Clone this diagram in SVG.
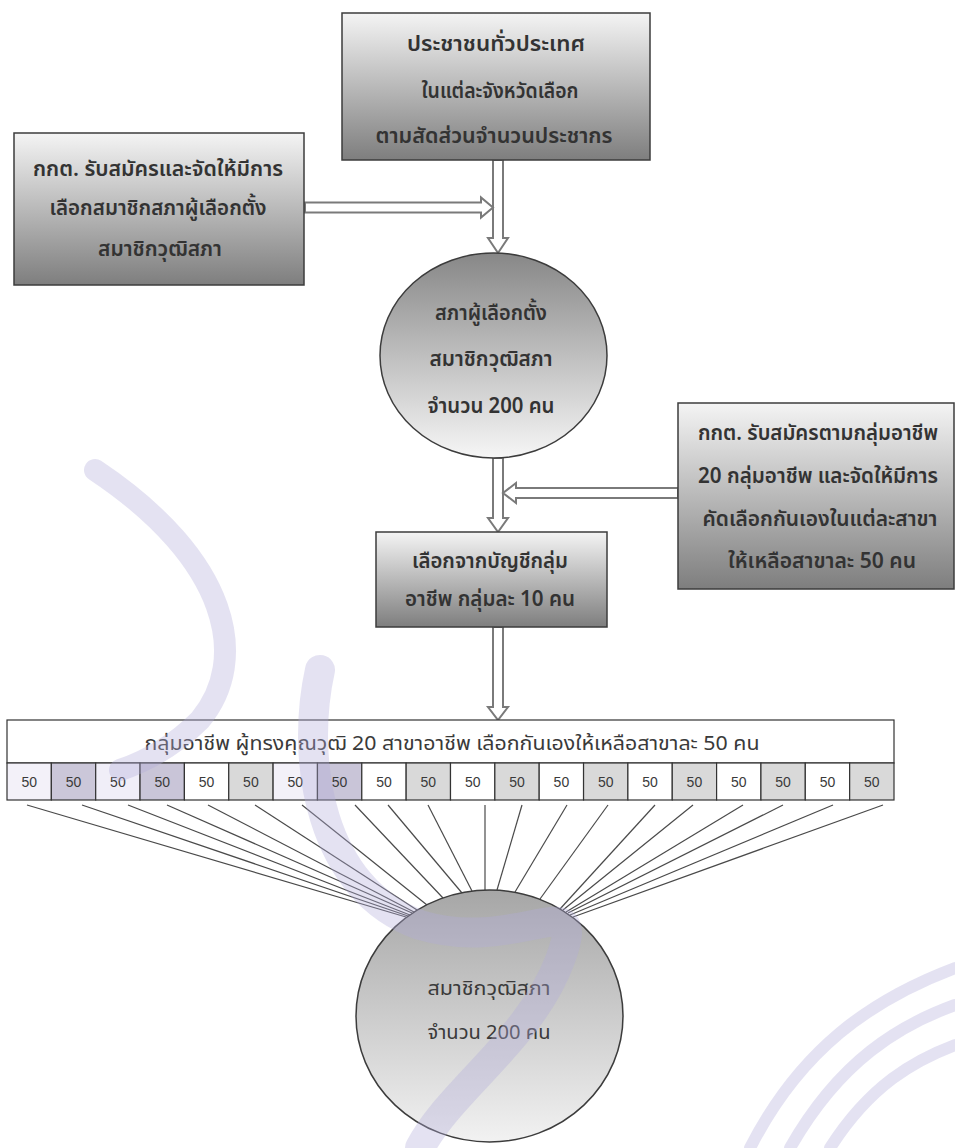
<svg xmlns="http://www.w3.org/2000/svg" width="955" height="1148" viewBox="0 0 955 1148">
<style>
.bx{stroke:#3c3c3c;stroke-width:1.5}
.t{font-family:"Noto Sans Thai","Noto Sans",sans-serif;font-size:22px;fill:#333;text-anchor:middle;font-weight:600}
.tl{font-family:"Noto Sans Thai","Noto Sans",sans-serif;font-size:19px;fill:#3a3a3a;text-anchor:middle}
.n{font-family:"Liberation Sans",sans-serif;font-size:14px;fill:#3a3a3a;text-anchor:middle}
.cell{stroke:#333;stroke-width:1.2}
.arr{fill:#fff;stroke:#7a7a7a;stroke-width:2}
.ln{stroke:#4a4a4a;stroke-width:1.2;fill:none}
.wm{fill:none;stroke:#b3abd9;stroke-linecap:round;opacity:0.35}
</style>
<defs>
<linearGradient id="gBox" x1="0" y1="0" x2="0" y2="1">
<stop offset="0" stop-color="#f4f4f4"/><stop offset="1" stop-color="#7e7e7e"/>
</linearGradient>
<linearGradient id="gCirc" x1="0" y1="0" x2="0" y2="1">
<stop offset="0" stop-color="#878787"/><stop offset="1" stop-color="#f6f6f6"/>
</linearGradient>
<linearGradient id="gCirc2" x1="0" y1="0" x2="0" y2="1">
<stop offset="0" stop-color="#a6a6a6"/><stop offset="1" stop-color="#f2f2f2"/>
</linearGradient>
</defs>
<rect width="955" height="1148" fill="#fff"/>
<g id="connectors">
<polygon class="arr" points="493,160 503,160 503,238 508,238 498,253 488,238 493,238"/>
<polygon class="arr" points="305,202.5 305,212.5 481,212.5 481,217.5 493,207.5 481,197.5 481,202.5"/>
<polygon class="arr" points="493,458 503,458 503,518 508,518 498,532 488,518 493,518"/>
<polygon class="arr" points="678,488 678,498 516,498 516,503 503,493 516,483 516,488"/>
<polygon class="arr" points="493,627 503,627 503,707 508,707 498,720 488,707 493,707"/>
<line class="ln" x1="27" y1="805" x2="406" y2="917"/>
<line class="ln" x1="82" y1="805" x2="408" y2="916"/>
<line class="ln" x1="128" y1="805" x2="410" y2="915"/>
<line class="ln" x1="167" y1="805" x2="412" y2="913"/>
<line class="ln" x1="208" y1="805" x2="414" y2="912"/>
<line class="ln" x1="255" y1="805" x2="417" y2="910"/>
<line class="ln" x1="302" y1="805" x2="427" y2="905"/>
<line class="ln" x1="355" y1="805" x2="443" y2="898"/>
<line class="ln" x1="388" y1="805" x2="462" y2="893"/>
<line class="ln" x1="428" y1="805" x2="472" y2="891"/>
<line class="ln" x1="485" y1="805" x2="485" y2="890"/>
<line class="ln" x1="522" y1="805" x2="497" y2="890"/>
<line class="ln" x1="567" y1="805" x2="515" y2="892"/>
<line class="ln" x1="608" y1="805" x2="540" y2="899"/>
<line class="ln" x1="655" y1="805" x2="560" y2="909"/>
<line class="ln" x1="693" y1="805" x2="563" y2="910"/>
<line class="ln" x1="743" y1="805" x2="566" y2="912"/>
<line class="ln" x1="783" y1="805" x2="568" y2="913"/>
<line class="ln" x1="833" y1="805" x2="570" y2="915"/>
<line class="ln" x1="883" y1="805" x2="573" y2="917"/>
</g>
<g id="n-top">
<rect class="bx" x="342" y="13" width="308" height="147" fill="url(#gBox)"/>
<text class="t" x="496" y="51" textLength="178" lengthAdjust="spacingAndGlyphs">ประชาชนทั่วประเทศ</text>
<text class="t" x="500" y="98" textLength="157" lengthAdjust="spacingAndGlyphs">ในแต่ละจังหวัดเลือก</text>
<text class="t" x="494" y="143" textLength="237" lengthAdjust="spacingAndGlyphs">ตามสัดส่วนจำนวนประชากร</text>
</g>
<g id="n-left">
<rect class="bx" x="14" y="133" width="290" height="152" fill="url(#gBox)"/>
<text class="t" x="158" y="176" textLength="250" lengthAdjust="spacingAndGlyphs">กกต. รับสมัครและจัดให้มีการ</text>
<text class="t" x="158" y="215" textLength="217" lengthAdjust="spacingAndGlyphs">เลือกสมาชิกสภาผู้เลือกตั้ง</text>
<text class="t" x="160" y="256" textLength="124" lengthAdjust="spacingAndGlyphs">สมาชิกวุฒิสภา</text>
</g>
<g id="n-circle1">
<ellipse class="bx" cx="493.5" cy="355.5" rx="113.5" ry="102.5" fill="url(#gCirc)"/>
<text class="t" x="491" y="320" textLength="112" lengthAdjust="spacingAndGlyphs">สภาผู้เลือกตั้ง</text>
<text class="t" x="491" y="366" textLength="123" lengthAdjust="spacingAndGlyphs">สมาชิกวุฒิสภา</text>
<text class="t" x="491" y="413" textLength="127" lengthAdjust="spacingAndGlyphs">จำนวน 200 คน</text>
</g>
<g id="n-right">
<rect class="bx" x="678" y="403" width="276" height="186" fill="url(#gBox)"/>
<text class="t" x="818" y="440" textLength="240" lengthAdjust="spacingAndGlyphs">กกต. รับสมัครตามกลุ่มอาชีพ</text>
<text class="t" x="818" y="483" textLength="240" lengthAdjust="spacingAndGlyphs">20 กลุ่มอาชีพ และจัดให้มีการ</text>
<text class="t" x="820" y="526" textLength="235" lengthAdjust="spacingAndGlyphs">คัดเลือกกันเองในแต่ละสาขา</text>
<text class="t" x="822" y="568" textLength="188" lengthAdjust="spacingAndGlyphs">ให้เหลือสาขาละ 50 คน</text>
</g>
<g id="n-middle">
<rect class="bx" x="376" y="532" width="231" height="95" fill="url(#gBox)"/>
<text class="t" x="490" y="568" textLength="156" lengthAdjust="spacingAndGlyphs">เลือกจากบัญชีกลุ่ม</text>
<text class="t" x="490" y="606" textLength="170" lengthAdjust="spacingAndGlyphs">อาชีพ กลุ่มละ 10 คน</text>
</g>
<g id="n-groups">
<rect class="cell" x="7" y="720" width="887" height="43" fill="#fff"/>
<text class="tl" x="452" y="750" textLength="615" lengthAdjust="spacingAndGlyphs">กลุ่มอาชีพ ผู้ทรงคุณวุฒิ 20 สาขาอาชีพ เลือกกันเองให้เหลือสาขาละ 50 คน</text>
<rect class="cell" x="7" y="763" width="44.35" height="37" fill="#f3f1f9"/>
<rect class="cell" x="51.35" y="763" width="44.35" height="37" fill="#cbc7d9"/>
<rect class="cell" x="95.7" y="763" width="44.35" height="37" fill="#f0eef8"/>
<rect class="cell" x="140.05" y="763" width="44.35" height="37" fill="#c9c5d8"/>
<rect class="cell" x="184.4" y="763" width="44.35" height="37" fill="#fff"/>
<rect class="cell" x="228.75" y="763" width="44.35" height="37" fill="#d9d9d9"/>
<rect class="cell" x="273.1" y="763" width="44.35" height="37" fill="#f3f1f9"/>
<rect class="cell" x="317.45" y="763" width="44.35" height="37" fill="#c9c5d8"/>
<rect class="cell" x="361.8" y="763" width="44.35" height="37" fill="#fff"/>
<rect class="cell" x="406.15" y="763" width="44.35" height="37" fill="#d9d9d9"/>
<rect class="cell" x="450.5" y="763" width="44.35" height="37" fill="#fff"/>
<rect class="cell" x="494.85" y="763" width="44.35" height="37" fill="#d9d9d9"/>
<rect class="cell" x="539.2" y="763" width="44.35" height="37" fill="#fff"/>
<rect class="cell" x="583.55" y="763" width="44.35" height="37" fill="#d9d9d9"/>
<rect class="cell" x="627.9" y="763" width="44.35" height="37" fill="#fff"/>
<rect class="cell" x="672.25" y="763" width="44.35" height="37" fill="#d9d9d9"/>
<rect class="cell" x="716.6" y="763" width="44.35" height="37" fill="#fff"/>
<rect class="cell" x="760.95" y="763" width="44.35" height="37" fill="#d9d9d9"/>
<rect class="cell" x="805.3" y="763" width="44.35" height="37" fill="#fff"/>
<rect class="cell" x="849.65" y="763" width="44.35" height="37" fill="#d9d9d9"/>
<text class="n" x="29.2" y="787">50</text>
<text class="n" x="73.5" y="787">50</text>
<text class="n" x="117.9" y="787">50</text>
<text class="n" x="162.2" y="787">50</text>
<text class="n" x="206.6" y="787">50</text>
<text class="n" x="250.9" y="787">50</text>
<text class="n" x="295.3" y="787">50</text>
<text class="n" x="339.6" y="787">50</text>
<text class="n" x="384" y="787">50</text>
<text class="n" x="428.3" y="787">50</text>
<text class="n" x="472.7" y="787">50</text>
<text class="n" x="517" y="787">50</text>
<text class="n" x="561.4" y="787">50</text>
<text class="n" x="605.7" y="787">50</text>
<text class="n" x="650.1" y="787">50</text>
<text class="n" x="694.4" y="787">50</text>
<text class="n" x="738.8" y="787">50</text>
<text class="n" x="783.1" y="787">50</text>
<text class="n" x="827.5" y="787">50</text>
<text class="n" x="871.8" y="787">50</text>
</g>
<g id="n-senate">
<ellipse class="bx" cx="489.5" cy="1016" rx="133.5" ry="126" fill="url(#gCirc2)"/>
<text class="tl" x="489" y="995" textLength="123" lengthAdjust="spacingAndGlyphs">สมาชิกวุฒิสภา</text>
<text class="tl" x="489" y="1039" textLength="123" lengthAdjust="spacingAndGlyphs">จำนวน 200 คน</text>
</g>
<g id="watermark">
<path class="wm" stroke-width="22" d="M 95 470 C 230 560 250 660 200 720 C 175 745 150 760 120 770"/>
<path class="wm" stroke-width="30" d="M 320 670 C 300 760 320 890 420 925 C 520 955 590 880 560 960 C 530 1040 450 1090 420 1148"/>
<path class="wm" stroke-width="12" d="M 750 1148 C 800 1050 870 1000 955 968"/>
<path class="wm" stroke-width="12" d="M 790 1148 C 840 1060 900 1025 955 1005"/>
<path class="wm" stroke-width="12" d="M 830 1148 C 870 1085 915 1060 955 1045"/>
</g>
</svg>
